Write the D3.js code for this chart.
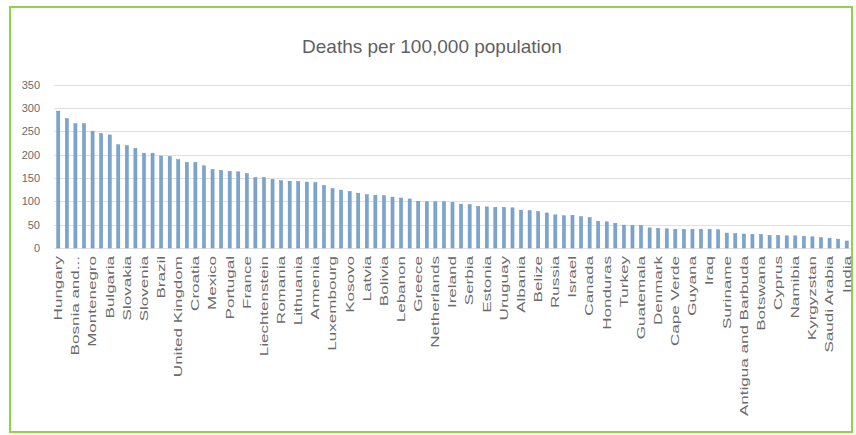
<!DOCTYPE html>
<html>
<head>
<meta charset="utf-8">
<style>
  body { margin: 0; background: #fff; }
  svg { display: block; font-family: "Liberation Sans", Arial, sans-serif; }
  .title { fill: #5f5f5f; font-size: 19px; text-anchor: middle; }
  .grid line { stroke: #e0e0e0; stroke-width: 1; }
  .axis text { fill: #6a6a6a; font-size: 11px; }
  .axis path { display: none; }
  .bar { fill: #7ca4cc; stroke: #6a93bd; stroke-width: 0.5; }
</style>
</head>
<body>
<svg width="856" height="435"></svg>
<script src="https://cdnjs.cloudflare.com/ajax/libs/d3/7.8.5/d3.min.js"></script>
<script>
// countries, sorted by deaths (only every other name fits on the axis)
var countries = [
  "Hungary", "Czechia", "Bosnia and...", "North Macedonia", "Montenegro", "Belgium",
  "Bulgaria", "Italy", "Slovakia", "Poland", "Slovenia", "Colombia",
  "Brazil", "Argentina", "United Kingdom", "Spain", "Croatia", "United States",
  "Mexico", "Chile", "Portugal", "Panama", "France", "Moldova",
  "Liechtenstein", "Sweden", "Romania", "Ecuador", "Lithuania", "Switzerland",
  "Armenia", "South Africa", "Luxembourg", "Paraguay", "Kosovo", "Austria",
  "Latvia", "Tunisia", "Bolivia", "Costa Rica", "Lebanon", "Iran",
  "Greece", "Ukraine", "Netherlands", "Germany", "Ireland", "Georgia",
  "Serbia", "Jordan", "Estonia", "Bahamas", "Uruguay", "Trinidad and Tobago",
  "Albania", "Dominican Republic", "Belize", "El Salvador", "Russia", "Bahrain",
  "Israel", "Kuwait", "Canada", "Libya", "Honduras", "Malta",
  "Turkey", "Oman", "Guatemala", "Eswatini", "Denmark", "Jamaica",
  "Cape Verde", "Azerbaijan", "Guyana", "Indonesia", "Iraq", "Kazakhstan",
  "Suriname", "Belarus", "Antigua and Barbuda", "Philippines", "Botswana", "Egypt",
  "Cyprus", "Finland", "Namibia", "Morocco", "Kyrgyzstan", "Uzbekistan",
  "Saudi Arabia", "Nepal", "India"
];

var deaths = [
  293, 277, 266, 266, 250, 245, 242, 221, 219, 213,
  203, 203, 197, 196, 189, 183, 183, 176, 168, 166,
  164, 163, 159, 151, 151, 147, 144, 143, 142, 141,
  140, 134, 127, 124, 121, 117, 114, 113, 112, 109,
  107, 105, 100, 99, 99, 99, 98, 94, 93, 89,
  88, 87, 87, 86, 81, 80, 78, 75, 71, 69,
  70, 67, 65, 57, 56, 53, 49, 48, 48, 43,
  42, 41, 40, 40, 40, 40, 40, 39, 32, 31,
  30, 29, 29, 27, 27, 26, 26, 25, 24, 22,
  21, 19, 15
];

var yTicks = [0, 50, 100, 150, 200, 250, 300, 350];
var titleText = "Deaths per 100,000 population";

var svg = d3.select("svg"),
    width = +svg.attr("width"),
    height = +svg.attr("height");

// green chart frame
svg.append("rect")
    .attr("x", 10).attr("y", 7)
    .attr("width", 842).attr("height", 425)
    .attr("fill", "#fff")
    .attr("stroke", "#92d050")
    .attr("stroke-width", 2);

svg.append("text")
    .attr("class", "title")
    .attr("x", 432).attr("y", 53)
    .text(titleText);

var x = d3.scaleBand()
    .domain(countries)
    .range([54, 851])
    .paddingInner(0.64)
    .paddingOuter(0.32);

var y = d3.scaleLinear()
    .domain([0, 350])
    .range([248, 84.5]);

svg.append("g")
    .attr("class", "grid")
  .selectAll("line")
  .data(yTicks)
  .enter().append("line")
    .attr("x1", 54).attr("x2", 851)
    .attr("y1", function(d) { return Math.round(y(d)) + 0.5; })
    .attr("y2", function(d) { return Math.round(y(d)) + 0.5; });

svg.append("g")
    .attr("class", "axis")
    .attr("transform", "translate(43,0)")
    .call(d3.axisLeft(y).tickValues(yTicks).tickSize(0).tickPadding(3));

svg.selectAll(".bar")
    .data(deaths)
  .enter().append("rect")
    .attr("class", "bar")
    .attr("x", function(d, i) { return x(countries[i]); })
    .attr("width", x.bandwidth())
    .attr("y", function(d) { return y(d); })
    .attr("height", function(d) { return y(0) - y(d); });

var xAxis = svg.append("g")
    .attr("class", "axis")
    .attr("transform", "translate(0,248)")
    .call(d3.axisBottom(x)
      .tickValues(countries.filter(function(d, i) { return i % 2 === 0; }))
      .tickSize(0));

// labels are stretched along their length like in the original picture
xAxis.selectAll("text")
    .attr("x", 0).attr("y", 0)
    .attr("dy", "0.35em")
    .attr("text-anchor", "end")
    .attr("transform", "translate(0,8) rotate(-90) scale(1.55,1)");
</script>
</body>
</html>
